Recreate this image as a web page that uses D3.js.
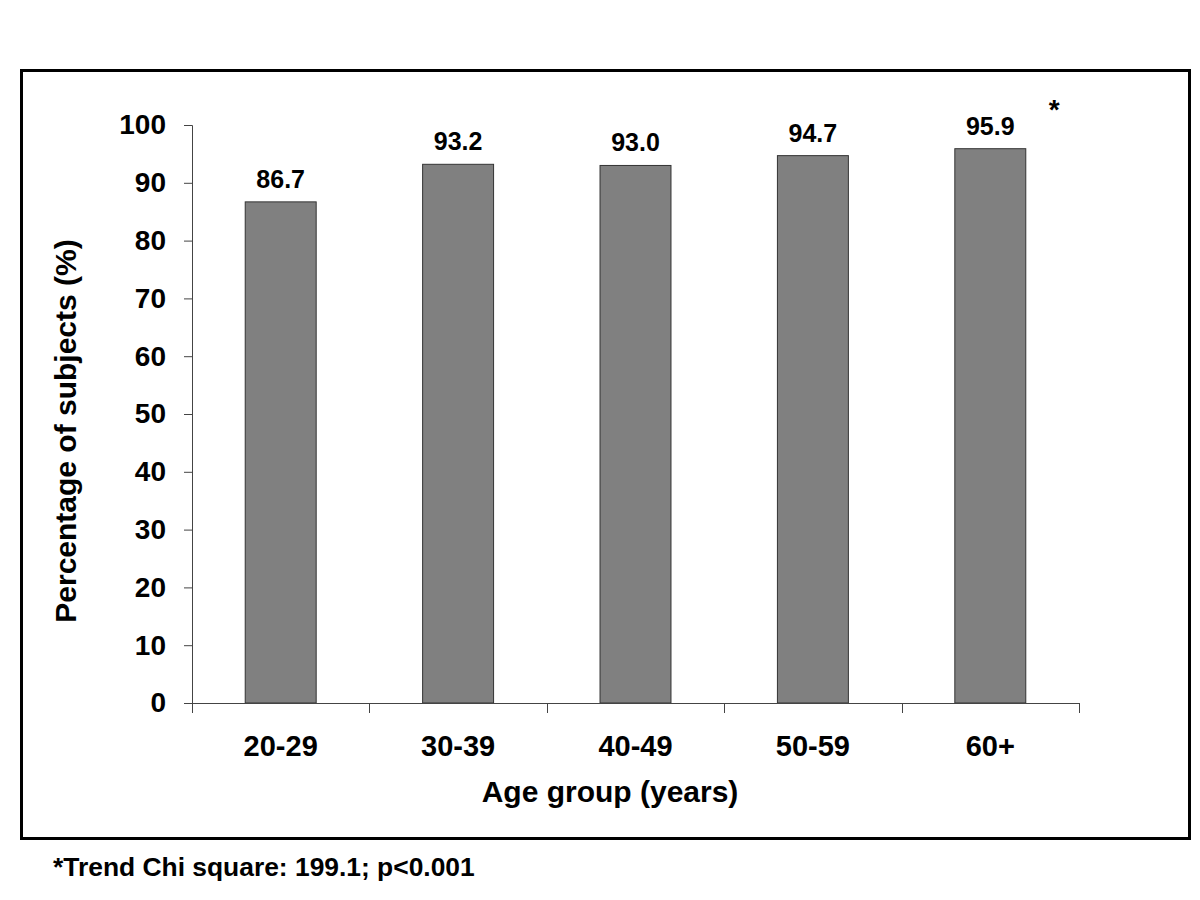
<!DOCTYPE html>
<html><head><meta charset="utf-8">
<script src="https://cdn.jsdelivr.net/npm/d3@7"></script>
<style>body{margin:0;background:#fff}svg{display:block}text{font-family:"Liberation Sans",Arial,sans-serif;font-weight:bold;fill:#000}</style>
</head><body>
<script>
const categories = ["20-29","30-39","40-49","50-59","60+"];
const values = [86.7, 93.2, 93.0, 94.7, 95.9];
const labels = ["86.7","93.2","93.0","94.7","95.9"];
const yTicks = [0,10,20,30,40,50,60,70,80,90,100];
const footnote = "*Trend Chi square: 199.1; p<0.001";

const W=1200,H=900;
const svg=d3.select("body").append("svg").attr("width",W).attr("height",H);
svg.append("rect").attr("width",W).attr("height",H).attr("fill","#fff");
svg.append("rect").attr("x",21.5).attr("y",70.5).attr("width",1168).attr("height",768)
  .attr("fill","none").attr("stroke","#000").attr("stroke-width",3);

const x=d3.scaleBand().domain(categories).range([192,1079]).paddingInner(0.6).paddingOuter(0.3);
const y=d3.scaleLinear().domain([0,100]).range([703,125]);

// bars
svg.selectAll("rect.bar").data(values).enter().append("rect").attr("class","bar")
  .attr("x",(d,i)=>x(categories[i])).attr("width",x.bandwidth())
  .attr("y",d=>y(d)).attr("height",d=>y(0)-y(d))
  .attr("fill","#808080").attr("stroke","#333").attr("stroke-width",1);

// y axis
const ya=svg.append("g").attr("transform","translate(192,0)")
  .call(d3.axisLeft(y).tickValues(yTicks).tickSize(8).tickPadding(18));
ya.select(".domain").attr("stroke","#444");
ya.selectAll(".tick line").attr("stroke","#444");
ya.selectAll("text").attr("font-size",28).attr("font-family","Liberation Sans, Arial").attr("font-weight","bold").attr("fill","#000");

// x axis with ticks at band boundaries
const xa=svg.append("g").attr("transform","translate(0,703)");
xa.append("line").attr("x1",192).attr("x2",1079).attr("y1",0.5).attr("y2",0.5).attr("stroke","#444");
const n=categories.length;
xa.selectAll("line.t").data(d3.range(n+1)).enter().append("line").attr("class","t")
  .attr("x1",i=>Math.round(192+i*(1079-192)/n)+0.5)
  .attr("x2",i=>Math.round(192+i*(1079-192)/n)+0.5)
  .attr("y1",0).attr("y2",10).attr("stroke","#444");
xa.selectAll("text").data(categories).enter().append("text")
  .attr("x",d=>x(d)+x.bandwidth()/2).attr("y",53).attr("text-anchor","middle")
  .attr("font-size",29).text(d=>d);

// value labels
svg.selectAll("text.val").data(values).enter().append("text").attr("class","val")
  .attr("x",(d,i)=>x(categories[i])+x.bandwidth()/2).attr("y",d=>y(d)-14)
  .attr("text-anchor","middle").attr("font-size",25).text((d,i)=>labels[i]);

// asterisk
svg.append("text").attr("x",x("60+")+x.bandwidth()/2+64).attr("y",y(values[4])-30)
  .attr("text-anchor","middle").attr("font-size",28).attr("font-weight","normal").text("*");

// axis titles
svg.append("text").attr("x",610).attr("y",802).attr("text-anchor","middle")
  .attr("font-size",30).text("Age group (years)");
svg.append("text").attr("transform","translate(76,431) rotate(-90)").attr("text-anchor","middle")
  .attr("font-size",30).text("Percentage of subjects (%)");

svg.append("text").attr("x",53).attr("y",876).attr("font-size",26.4).text(footnote);
</script>
</body></html>
